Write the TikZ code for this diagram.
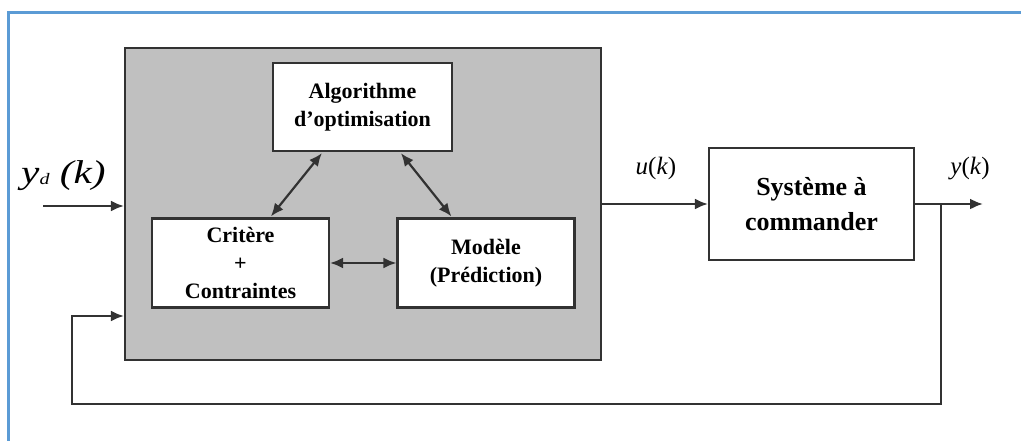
\documentclass[tikz,border=0pt]{standalone}
\usepackage{fontspec}
\setmainfont{Liberation Serif}
\usetikzlibrary{arrows.meta,calc}
\definecolor{frameblue}{RGB}{91,155,213}
\definecolor{panelgray}{RGB}{192,192,192}
\definecolor{edgegray}{RGB}{50,50,50}
\begin{document}
\begin{tikzpicture}[x=1pt,y=-1pt,
  box/.style={draw=edgegray,line width=2.2pt,fill=white,align=center,font=\fontsize{22}{28}\selectfont\bfseries,inner sep=0pt},
  sig/.style={line width=2.2pt,draw=edgegray},
  arr/.style={sig,-{Latex[length=13pt,width=11pt]}},
  darr/.style={sig,{Latex[length=13pt,width=11pt]}-{Latex[length=13pt,width=11pt]}}]
\useasboundingbox (0,0) rectangle (1021,440);
\draw[frameblue,line width=3pt] (8,445) -- (8,12) -- (1030,12);
% gray panel
\node[draw=edgegray,line width=2.2pt,fill=panelgray,minimum width=476pt,minimum height=312pt,inner sep=0pt] (ctrl) at (363,204) {};
\node[box,minimum width=179pt,minimum height=88pt] (algo) at (362.5,107) {Algorithme\\d’optimisation};
\node[box,minimum width=177pt,minimum height=89pt] (crit) at (240.5,263) {Critère\\+\\Contraintes};
\node[box,minimum width=177pt,minimum height=89pt] (mod) at (486,263) {Modèle\\(Prédiction)};
\node[box,font=\fontsize{26}{35}\selectfont\bfseries,minimum width=205pt,minimum height=112pt] (sys) at (811.5,204) {Système à\\commander};
% arrows inside
\draw[darr] ($(algo.south west)+(50,1)$) -- ($(crit.north west)+(120,-1)$);
\draw[darr] ($(algo.south west)+(129,1)$) -- ($(mod.north west)+(55,-1)$);
\draw[darr] (crit.east) -- (mod.west);
% signals
\coordinate (in) at (43,206);
\coordinate (branch) at (941,204);
\coordinate (out) at (983,204);
\coordinate (fb1) at (941,404);
\coordinate (fb2) at (72,404);
\coordinate (fb3) at (72,316);
\draw[arr] (in) -- (in -| ctrl.west);
\draw[arr] (ctrl.east |- sys.west) -- (sys.west);
\draw[arr] (sys.east) -- (out);
\draw[arr] (branch) -- (fb1) -- (fb2) -- (fb3) -- (fb3 -| ctrl.west);
% labels
\node[font=\fontsize{33}{33}\selectfont\itshape,anchor=base west,inner sep=0pt] (yd) at (21,183) {\scalebox{1.25}[1]{y\raisebox{-1pt}{\fontsize{16}{16}\selectfont d} (k)}};
\node[font=\fontsize{25}{25}\selectfont,anchor=base,inner sep=0pt] (uk) at (656,174) {\textit{u}(\textit{k})};
\node[font=\fontsize{25}{25}\selectfont,anchor=base,inner sep=0pt] (yk) at (970,174) {\textit{y}(\textit{k})};
\end{tikzpicture}
\end{document}
